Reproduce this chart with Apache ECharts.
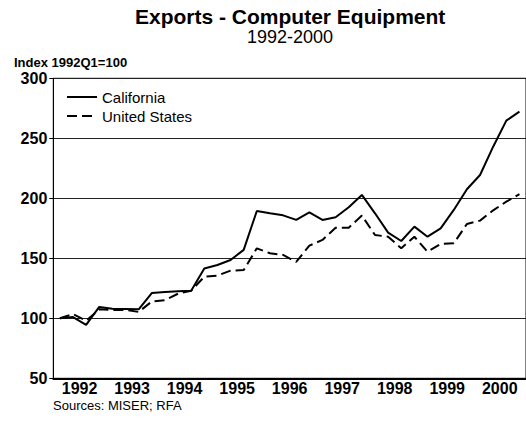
<!DOCTYPE html>
<html>
<head>
<meta charset="utf-8">
<script src="https://cdn.jsdelivr.net/npm/echarts@6/dist/echarts.min.js"></script>
<style>
html,body{margin:0;padding:0;background:#fff;}
#c{width:526px;height:421px;}
</style>
</head>
<body>
<div id="c"></div>
<script>
const years = ['1992','1993','1994','1995','1996','1997','1998','1999','2000'];
const quarters = [];
years.forEach(y => { ['Q1','Q2','Q3','Q4'].forEach(q => quarters.push(y + q)); });

const california = [100, 101, 94.5, 109.5, 108, 107.8, 107.5, 121, 122, 122.5, 123, 141.5,
  144.4, 148.6, 157, 189.4, 187.5, 185.8, 182, 188.2, 182, 184.2, 192.5, 202.8,
  187.5, 171.4, 164.4, 176.4, 168, 175, 190.3, 207.5, 219.4, 243, 264.7, 272.2];
const unitedStates = [100, 103.5, 98, 107.5, 107, 107, 105.3, 114, 115, 120.5, 123, 134.7,
  135.6, 139.7, 140.2, 158.3, 154.2, 152.8, 147, 160.5, 165.3, 175.5, 175.5, 185.6,
  169.4, 168, 158.3, 168, 155.5, 162, 162.5, 178.6, 181.4, 190, 197.2, 203.5];

const yTicks = [50, 100, 150, 200, 250, 300];
const FONT = 'Arial, "Liberation Sans", sans-serif';

const chart = echarts.init(document.getElementById('c'), null, {renderer: 'svg'});
chart.setOption({
  animation: false,
  backgroundColor: '#fff',
  title: [
    {text: 'Exports - Computer Equipment', left: 135, top: 6, padding: 0,
     textStyle: {fontFamily: FONT, fontSize: 21, fontWeight: 'bold', color: '#000', lineHeight: 21}},
    {text: '1992-2000', left: 247, top: 29, padding: 0,
     textStyle: {fontFamily: FONT, fontSize: 18, fontWeight: 'normal', color: '#000', lineHeight: 16}},
    {text: 'Index 1992Q1=100', left: 14, top: 56, padding: 0,
     textStyle: {fontFamily: FONT, fontSize: 13, fontWeight: 'bold', color: '#000', lineHeight: 13}},
    {text: 'Sources: MISER; RFA', left: 53, top: 399, padding: 0,
     textStyle: {fontFamily: FONT, fontSize: 13, fontWeight: 'normal', color: '#000', lineHeight: 13}}
  ],
  legend: {
    orient: 'vertical', left: 66, top: 89.5, itemWidth: 30, itemHeight: 14, itemGap: 4, padding: 0,
    itemStyle: {opacity: 0},
    textStyle: {fontFamily: FONT, fontSize: 15, color: '#000'},
    data: ['California', 'United States']
  },
  grid: {left: 53.3, right: -3.6, top: 78.3, bottom: 42.7, show: true, borderColor: '#000', borderWidth: 1, backgroundColor: 'transparent'},
  xAxis: [
    {type: 'category', data: quarters, boundaryGap: true, position: 'bottom',
     axisLine: {lineStyle: {color: '#000', width: 2}},
     axisTick: {interval: 0, length: 3, lineStyle: {color: '#000', width: 1}},
     axisLabel: {show: false}, splitLine: {show: false}},
    {type: 'category', data: years, boundaryGap: true, position: 'bottom',
     axisLine: {show: false},
     axisTick: {interval: 0, length: 5, lineStyle: {color: '#000', width: 1}},
     axisLabel: {interval: 0, margin: 2, fontFamily: FONT, fontSize: 16, fontWeight: 'bold', color: '#000'},
     splitLine: {show: false}}
  ],
  yAxis: {
    type: 'value', min: yTicks[0], max: yTicks[yTicks.length - 1], interval: 50,
    axisLine: {show: true, lineStyle: {color: '#000', width: 1}},
    axisTick: {show: true, length: 4, lineStyle: {color: '#000'}},
    axisLabel: {margin: 6, fontFamily: FONT, fontSize: 16, fontWeight: 'bold', color: '#000'},
    splitLine: {show: true, lineStyle: {color: '#222', width: 1}}
  },
  series: [
    {name: 'California', type: 'line', data: california, xAxisIndex: 0, symbol: 'none',
     lineStyle: {color: '#000', width: 2, type: 'solid'}, itemStyle: {color: '#000'}},
    {name: 'United States', type: 'line', data: unitedStates, xAxisIndex: 0, symbol: 'none',
     lineStyle: {color: '#000', width: 2, type: [10, 5]}, itemStyle: {color: '#000'}}
  ]
});
</script>
</body>
</html>
